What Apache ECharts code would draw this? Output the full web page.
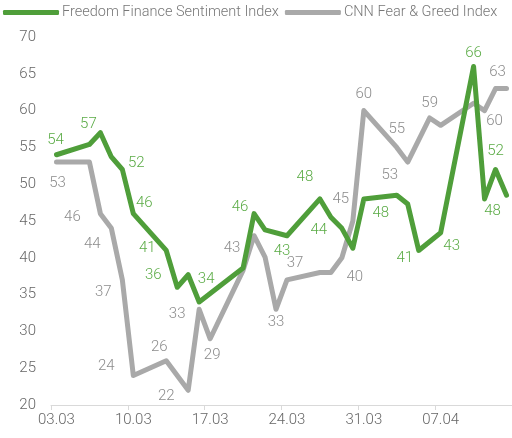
<!DOCTYPE html>
<html><head><meta charset="utf-8">
<script src="https://cdn.jsdelivr.net/npm/echarts@6/dist/echarts.min.js"></script>
<style>html,body{margin:0;padding:0;background:#fff}#c{width:512px;height:438px}</style>
</head><body><div id="c"></div>
<script>
// All calendar days on the axis (2023)
const days = ['03.03','04.03','05.03','06.03','07.03','08.03','09.03','10.03','11.03','12.03','13.03','14.03','15.03','16.03',
  '17.03','18.03','19.03','20.03','21.03','22.03','23.03','24.03','25.03','26.03','27.03','28.03','29.03','30.03',
  '31.03','01.04','02.04','03.04','04.04','05.04','06.04','07.04','08.04','09.04','10.04','11.04','12.04','13.04'];
const tickLabels = ['03.03','10.03','17.03','24.03','31.03','07.04'];

const ffDates = ['03.03','06.03','07.03','08.03','09.03','10.03','13.03','14.03','15.03','16.03','20.03','21.03','22.03','24.03',
  '27.03','28.03','29.03','30.03','31.03','03.04','04.04','05.04','07.04','10.04','11.04','12.04','13.04'];
const ffValues = [54,55.4,57,53.7,52,46,41,36,37.7,34,38.6,46,43.8,43,48,45.5,44,41.3,48,48.5,47.3,41,43.4,66,48,52,48.5];

const fgDates = ['03.03','06.03','07.03','08.03','09.03','10.03','13.03','15.03','16.03','17.03','20.03','21.03','22.03','23.03',
  '24.03','27.03','28.03','29.03','30.03','31.03','03.04','04.04','06.04','07.04','10.04','11.04','12.04','13.04'];
const fgValues = [53,53,46,44,37,24,26,22,33,29,38.3,43,40.1,33,37,38,38,40,45,60,55,53,59,58,61,60,63,63];

// label placement (pixel offsets from the point) for labelled points
const ffLabelOffsets = {'03.03':[-1,-15],'07.03':[-12,-8],'09.03':[14,-6],'10.03':[11,-10],'13.03':[-19,-2],'14.03':[-24,-12],
  '16.03':[7,-23],'21.03':[-14,-6],'24.03':[-5,16],'27.03':[-15,-22],'29.03':[-23,2],'31.03':[17,14],'05.04':[-14,8],
  '07.04':[11,13],'10.04':[0,-13],'11.04':[8,12],'12.04':[0,-18]};
const fgLabelOffsets = {'03.03':[1,21],'07.03':[-28,4],'08.03':[-19,16],'09.03':[-19,12],'10.03':[-27,-9],'13.03':[-7,-14],
  '15.03':[-22,6],'16.03':[-22,5],'17.03':[2,16],'21.03':[-22,13],'23.03':[0,13],'24.03':[8,-17],'29.03':[13,19],
  '30.03':[-12,-22],'31.03':[0,-16],'03.04':[0,-18],'04.04':[-18,13],'06.04':[0,-15],'11.04':[10,11],'12.04':[2,-16]};

const FONT = 'Roboto';
const FS = 15;
function build(dates, values, offsets, color) {
  return dates.map((d, i) => {
    const o = offsets[d];
    return {
      value: [d, values[i]],
      label: o ? {show: true, position: 'inside', offset: o, color: color, fontSize: FS, fontFamily: FONT, fontWeight: 300,
        formatter: p => Math.round(p.value[1])} : {show: false}
    };
  });
}

const chart = echarts.init(document.getElementById('c'), null, {renderer: 'canvas'});
chart.setOption({
  animation: false,
  legend: {
    left: 1, top: 5, itemGap: 6, itemWidth: 56, itemHeight: 5, icon: 'roundRect', padding: [0, 0, 0, 2],
    textStyle: {color: '#777', fontSize: 14.5, fontFamily: FONT, fontWeight: 300, padding: [0, 0, 0, -2]},
    data: ['Freedom Finance Sentiment Index', 'CNN Fear & Greed Index']
  },
  grid: {left: 51, right: 0, top: 37, bottom: 33, containLabel: false},
  xAxis: {
    type: 'category', data: days, boundaryGap: true,
    axisLine: {lineStyle: {color: '#d9d9d9', width: 1}},
    axisTick: {show: true, interval: 6, length: 5, lineStyle: {color: '#d9d9d9'}},
    axisLabel: {interval: 6, color: '#666', fontSize: FS, fontFamily: FONT, fontWeight: 300, margin: 8,
      formatter: v => tickLabels.includes(v) ? v : ''},
    splitLine: {show: false}
  },
  yAxis: {
    type: 'value', min: 20, max: 70, interval: 5,
    axisLine: {show: false}, axisTick: {show: false}, splitLine: {show: false},
    axisLabel: {color: '#666', fontSize: FS, fontFamily: FONT, fontWeight: 300, margin: 15}
  },
  series: [
    {name: 'CNN Fear & Greed Index', type: 'line', z: 2, symbol: 'circle', symbolSize: 0, showSymbol: true, itemStyle: {color: '#a9a9a9'},
      lineStyle: {color: '#a9a9a9', width: 5, join: 'round', cap: 'round'}, silent: true,
      data: build(fgDates, fgValues, fgLabelOffsets, '#8c8c8c')},
    {name: 'Freedom Finance Sentiment Index', type: 'line', z: 3, symbol: 'circle', symbolSize: 0, showSymbol: true, itemStyle: {color: '#4f9e3a'},
      lineStyle: {color: '#4f9e3a', width: 5, join: 'round', cap: 'round'}, silent: true,
      data: build(ffDates, ffValues, ffLabelOffsets, '#5aab45')}
  ]
});
</script></body></html>
